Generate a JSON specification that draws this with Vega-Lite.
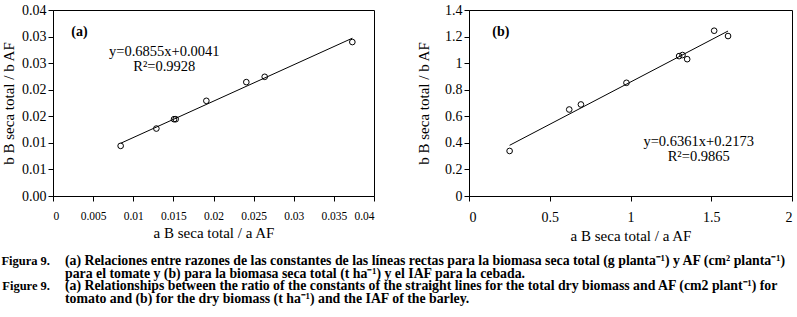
{
  "$schema": "https://vega.github.io/schema/vega-lite/v6.json",
  "background": "white",
  "padding": {"left": 1, "top": 2, "right": 2, "bottom": 2},
  "config": {
    "font": "Liberation Serif",
    "view": {"stroke": "black", "strokeWidth": 1},
    "axis": {
      "grid": false,
      "domainColor": "black",
      "tickColor": "black",
      "labelColor": "black",
      "titleColor": "black",
      "tickSize": 5,
      "labelFont": "Liberation Serif",
      "titleFont": "Liberation Serif",
      "titleFontWeight": "normal",
      "titleFontSize": 15,
      "labelFontSize": 14
    },
    "axisX": {"labelPadding": 9, "titlePadding": 4},
    "axisY": {"labelPadding": 2}
  },
  "datasets": {
    "a_pts": [
      {"x": 0.00843, "y": 0.00943},
      {"x": 0.01288, "y": 0.01269},
      {"x": 0.01508, "y": 0.01445},
      {"x": 0.01529, "y": 0.01445},
      {"x": 0.01911, "y": 0.01791},
      {"x": 0.02409, "y": 0.02143},
      {"x": 0.02638, "y": 0.02243},
      {"x": 0.0373, "y": 0.02897}
    ],
    "b_pts": [
      {"x": 0.2515, "y": 0.339},
      {"x": 0.6206, "y": 0.651},
      {"x": 0.693, "y": 0.689},
      {"x": 0.975, "y": 0.852},
      {"x": 1.301, "y": 1.053},
      {"x": 1.322, "y": 1.061},
      {"x": 1.351, "y": 1.03},
      {"x": 1.518, "y": 1.244},
      {"x": 1.604, "y": 1.204}
    ],
    "a_tag": [{"x": 0.00228, "y": 0.0308, "label": "(a)"}],
    "a_eq": [
      {"x": 0.01387, "y": 0.0271, "label": "y=0.6855x+0.0041"},
      {"x": 0.01387, "y": 0.02427, "label": "R²=0.9928"}
    ],
    "b_tag": [{"x": 0.1447, "y": 1.232, "label": "(b)"}],
    "b_eq": [
      {"x": 1.4224, "y": 0.407, "label": "y=0.6361x+0.2173"},
      {"x": 1.4224, "y": 0.294, "label": "R²=0.9865"}
    ],
    "caption": [
      {"line": 1, "part": "label", "text": "Figura 9."},
      {"line": 1, "part": "body", "text": "(a) Relaciones entre razones de las constantes de las líneas rectas para la biomasa seca total (g planta⁻¹) y AF (cm² planta⁻¹)"},
      {"line": 2, "part": "body", "text": "para el tomate y (b) para la biomasa seca total (t ha⁻¹) y el IAF para la cebada."},
      {"line": 3, "part": "label", "text": "Figure 9."},
      {"line": 3, "part": "body", "text": "(a) Relationships between the ratio of the constants of the straight lines for the total dry biomass and AF (cm2 plant⁻¹) for"},
      {"line": 4, "part": "body", "text": "tomato and (b) for the dry biomass (t ha⁻¹) and the IAF of the barley."}
    ]
  },
  "spacing": 10,
  "vconcat": [
    {
      "spacing": 41,
      "hconcat": [
        {
          "width": 321,
          "height": 186,
          "encoding": {
            "x": {
              "field": "x", "type": "quantitative",
              "scale": {"domain": [0, 0.04], "nice": false, "zero": false},
              "axis": {"values": [0, 0.005, 0.01, 0.015, 0.02, 0.025, 0.03, 0.035, 0.04], "format": "~g", "labelFontSize": 11.5, "title": "a B seca total / a AF"}
            },
            "y": {
              "field": "y", "type": "quantitative",
              "scale": {"domain": [0, 0.035], "nice": false, "zero": false},
              "axis": {"values": [0, 0.005, 0.01, 0.015, 0.02, 0.025, 0.03, 0.035], "labelExpr": "format(datum.value + 0.000000001, '.2f')", "title": "b B seca total / b AF", "titlePadding": 5}
            }
          },
          "layer": [
            {
              "data": {"name": "a_pts"},
              "transform": [{"regression": "y", "on": "x"}],
              "mark": {"type": "line", "color": "black", "strokeWidth": 1}
            },
            {
              "data": {"name": "a_pts"},
              "mark": {"type": "point", "shape": "circle", "filled": false, "color": "black", "size": 32, "strokeWidth": 1, "opacity": 1}
            },
            {
              "data": {"name": "a_tag"},
              "mark": {"type": "text", "align": "left", "baseline": "middle", "fontWeight": "bold", "fontSize": 14, "color": "black"},
              "encoding": {"text": {"field": "label"}}
            },
            {
              "data": {"name": "a_eq"},
              "mark": {"type": "text", "align": "center", "baseline": "middle", "fontSize": 14.5, "color": "black"},
              "encoding": {"text": {"field": "label"}}
            }
          ]
        },
        {
          "width": 323,
          "height": 186,
          "encoding": {
            "x": {
              "field": "x", "type": "quantitative",
              "scale": {"domain": [0, 2], "nice": false, "zero": false},
              "axis": {"values": [0, 0.5, 1, 1.5, 2], "format": "~g", "title": "a B seca total / a AF"}
            },
            "y": {
              "field": "y", "type": "quantitative",
              "scale": {"domain": [0, 1.4], "nice": false, "zero": false},
              "axis": {"values": [0, 0.2, 0.4, 0.6, 0.8, 1, 1.2, 1.4], "format": "~g", "title": "b B seca total / b AF", "titlePadding": 13}
            }
          },
          "layer": [
            {
              "data": {"name": "b_pts"},
              "transform": [{"regression": "y", "on": "x"}],
              "mark": {"type": "line", "color": "black", "strokeWidth": 1}
            },
            {
              "data": {"name": "b_pts"},
              "mark": {"type": "point", "shape": "circle", "filled": false, "color": "black", "size": 32, "strokeWidth": 1, "opacity": 1}
            },
            {
              "data": {"name": "b_tag"},
              "mark": {"type": "text", "align": "left", "baseline": "middle", "fontWeight": "bold", "fontSize": 14, "color": "black"},
              "encoding": {"text": {"field": "label"}}
            },
            {
              "data": {"name": "b_eq"},
              "mark": {"type": "text", "align": "center", "baseline": "middle", "fontSize": 14.5, "color": "black"},
              "encoding": {"text": {"field": "label"}}
            }
          ]
        }
      ]
    },
    {
      "width": 12,
      "height": 38,
      "view": {"stroke": null},
      "data": {"name": "caption"},
      "encoding": {
        "x": {"field": "part", "type": "nominal", "scale": {"type": "point", "domain": ["label", "body"], "padding": 0}, "axis": null},
        "y": {"field": "line", "type": "ordinal", "scale": {"type": "point", "padding": 0}, "axis": null},
        "text": {"field": "text"}
      },
      "layer": [
        {
          "transform": [{"filter": "datum.part === 'label'"}],
          "mark": {"type": "text", "align": "right", "baseline": "middle", "dx": -3, "fontWeight": "bold", "fontSize": 12.5, "color": "black"}
        },
        {
          "transform": [{"filter": "datum.part === 'body'"}],
          "mark": {"type": "text", "align": "left", "baseline": "middle", "fontWeight": "bold", "fontSize": 13.8, "color": "black"}
        }
      ]
    }
  ]
}
